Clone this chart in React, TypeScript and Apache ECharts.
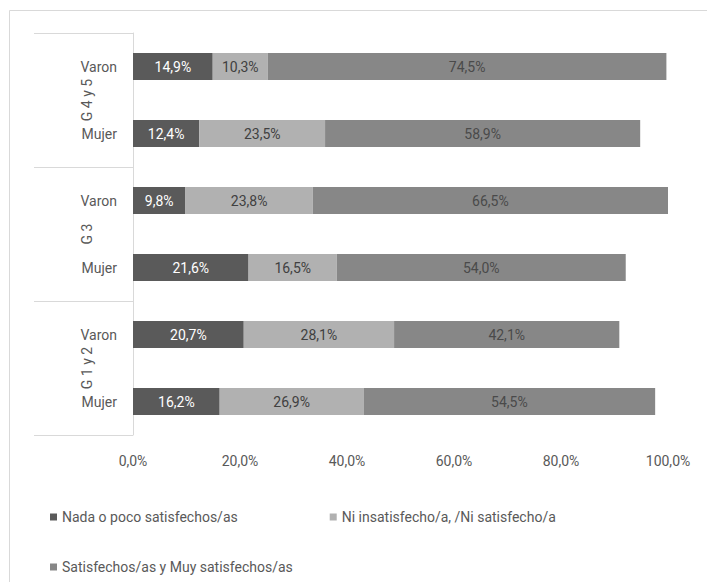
import React, { useEffect, useRef } from "react";
import * as echarts from "echarts";

const groups = ["G 4 y 5", "G 3", "G 1 y 2"];
const rows = ["G 4 y 5|Varon", "G 4 y 5|Mujer", "G 3|Varon", "G 3|Mujer", "G 1 y 2|Varon", "G 1 y 2|Mujer"];
const seriesNames = [
  "Nada o poco satisfechos/as",
  "Ni insatisfecho/a, /Ni satisfecho/a",
  "Satisfechos/as y Muy satisfechos/as",
];
const nadaValues = [14.9, 12.4, 9.8, 21.6, 20.7, 16.2];
const niValues = [10.3, 23.5, 23.8, 16.5, 28.1, 26.9];
const satValues = [74.5, 58.9, 66.5, 54.0, 42.1, 54.5];
const xTicks = [0, 20, 40, 60, 80, 100];

const colors = ["#5a5a5a", "#b1b1b1", "#878787"];
const labelColors = ["#ffffff", "#404040", "#4a4a4a"];
const FONT = "Roboto, 'Liberation Sans', sans-serif";
const FS = 14;

export default function App() {
  const ref = useRef<HTMLDivElement>(null);
  useEffect(() => {
    document.body.style.margin = "0";
    if (!ref.current) return;
    const chart = echarts.init(ref.current, null, { renderer: "svg" });
    const values = [nadaValues, niValues, satValues];
    chart.setOption({
      animation: false,
      textStyle: { fontFamily: FONT },
      graphic: [
        {
          type: "rect",
          shape: { x: 9.5, y: 10.5, width: 760, height: 640 },
          style: { fill: "none", stroke: "#d9d9d9", lineWidth: 1 },
          silent: true,
        },
      ],
      grid: { left: 133, right: 39, top: 33, bottom: 147, containLabel: false },
      xAxis: {
        type: "value",
        min: xTicks[0],
        max: xTicks[xTicks.length - 1],
        interval: 20,
        splitLine: { show: false },
        axisLine: { show: false },
        axisTick: { show: false },
        axisLabel: {
          color: "#595959",
          fontSize: FS,
          margin: 19,
          formatter: (v: number) => v.toFixed(1).replace(".", ",") + "%",
        },
      },
      yAxis: [
        {
          type: "category",
          data: rows,
          inverse: true,
          axisLine: { show: false },
          axisTick: { show: false },
          axisLabel: {
            color: "#595959",
            fontSize: FS,
            margin: 16,
            formatter: (v: string) => v.split("|")[1],
          },
        },
        {
          type: "category",
          data: groups,
          inverse: true,
          position: "left",
          axisLine: { show: true, lineStyle: { color: "#d9d9d9", width: 1 } },
          axisTick: { show: true, length: 99, lineStyle: { color: "#d9d9d9", width: 1 } },
          axisLabel: {
            color: "#595959",
            fontSize: FS,
            rotate: 90,
            margin: 46,
            align: "center",
            verticalAlign: "middle",
          },
        },
      ],
      legend: [
        {
          data: seriesNames.slice(0, 2),
          left: 45,
          top: 505,
          icon: "rect",
          itemWidth: 7,
          itemHeight: 7,
          itemGap: 92,
          textStyle: { color: "#595959", fontSize: FS, fontFamily: FONT },
        },
        {
          data: seriesNames.slice(2),
          left: 45,
          top: 555,
          icon: "rect",
          itemWidth: 7,
          itemHeight: 7,
          textStyle: { color: "#595959", fontSize: FS, fontFamily: FONT },
        },
      ],
      series: seriesNames.map((name, i) => ({
        name,
        type: "bar",
        stack: "total",
        yAxisIndex: 0,
        barWidth: 27,
        data: values[i],
        itemStyle: { color: colors[i] },
        label: {
          show: true,
          position: "inside",
          color: labelColors[i],
          fontSize: FS,
          fontFamily: FONT,
          formatter: (p: any) => Number(p.value).toFixed(1).replace(".", ",") + "%",
        },
      })),
    });
    return () => chart.dispose();
  }, []);
  return <div ref={ref} style={{ width: 707, height: 582 }} />;
}
